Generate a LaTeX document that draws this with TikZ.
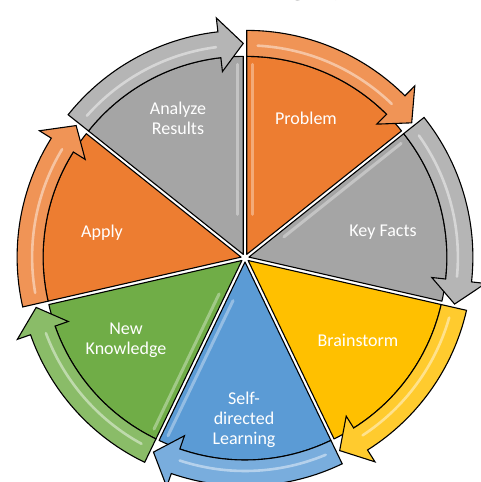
\documentclass[tikz,border=0pt]{standalone}
\usepackage{fontspec}
\setmainfont{Carlito}
\newfontfamily\titlefont{Liberation Serif}
\definecolor{cOr}{HTML}{ED7D31}
\definecolor{cGr}{HTML}{A5A5A5}
\definecolor{cGo}{HTML}{FFC000}
\definecolor{cBl}{HTML}{5B9BD5}
\definecolor{cGn}{HTML}{70AD47}
\tikzset{
  segbody/.style={draw=black, line width=1.1pt, line join=round},
  segarrow/.style={draw=black, line width=1.1pt, line join=miter},
  gloss/.style={draw=white, opacity=0.45, line width=2.6pt, line cap=round},
  bodystripe/.style={draw=white, opacity=0.35, line width=3pt, line cap=round},
  lbl/.style={text=white, font=\fontsize{18}{20}\selectfont, align=center, inner sep=0pt},
}
% #1 index, #2 colour
\newcommand\cycseg[2]{%
  \pgfmathsetmacro\sA{90-#1*360/7}%
  \pgfmathsetmacro\eA{\sA-360/7}%
  \pgfmathsetmacro\mA{\sA-180/7}%
  \pgfmathsetmacro\hA{\eA+6.5}%
  \begin{scope}[shift={(\mA:4)}]
    \path[segbody, fill=#2] (0,0) -- (\sA:198) arc[start angle=\sA, end angle=\eA, radius=198] -- cycle;
    \path[segarrow, fill=#2!82!white] (\sA:224) arc[start angle=\sA, end angle=\hA, radius=224]
      -- (\hA:238) -- (\eA:211) -- (\hA:184) -- (\hA:198)
      arc[start angle=\hA, end angle=\sA, radius=198] -- cycle;
    \draw[gloss] (\sA-3:209) arc[start angle=\sA-3, end angle=\hA+1, radius=209];
  \end{scope}}
% stripe along start (#2=s) or end (#2=e) edge of segment #1
\newcommand\cycstripe[2]{%
  \pgfmathsetmacro\sA{90-#1*360/7}%
  \pgfmathsetmacro\eA{\sA-360/7}%
  \pgfmathsetmacro\mA{\sA-180/7}%
  \begin{scope}[shift={(\mA:4)}]
    \ifx s#2
      \draw[bodystripe, shift={(\sA-90:6)}] (\sA:40) -- (\sA:190);
    \else
      \draw[bodystripe, shift={(\eA+90:6)}] (\eA:40) -- (\eA:190);
    \fi
  \end{scope}}
\begin{document}
\begin{tikzpicture}[x=1pt, y=1pt]
\useasboundingbox (0,0) rectangle (481,482);
\fill[white] (0,0) rectangle (481,482);
\begin{scope}
  \clip (0,0) rectangle (481,482);
  \node[font=\titlefont\bfseries\fontsize{28}{30}\selectfont, anchor=base, inner sep=0pt] (tg) at (298,487.5) {g};
  \node[font=\titlefont\bfseries\fontsize{28}{30}\selectfont, anchor=base, inner sep=0pt] (ty) at (340,487.5) {y};
\end{scope}
\begin{scope}[shift={(245,224)}]
  \cycseg{0}{cOr}
  \cycseg{1}{cGr}
  \cycseg{2}{cGo}
  \cycseg{3}{cBl}
  \cycseg{4}{cGn}
  \cycseg{5}{cOr}
  \cycseg{6}{cGr}
  \cycstripe{0}{s}
  \cycstripe{1}{s}
  \cycstripe{3}{e}
  \cycstripe{4}{s}
  \cycstripe{6}{e}
\end{scope}
\node[lbl] (problem) at (306,364) {Problem};
\node[lbl] (keyfacts) at (383,250) {Key Facts};
\node[lbl] (brainstorm) at (358,142) {Brainstorm};
\node[lbl] (selfdir) at (244,62) {Self-\\directed\\Learning};
\node[lbl] (newknow) at (126,142) {New\\Knowledge};
\node[lbl] (apply) at (102,249) {Apply};
\node[lbl] (analyze) at (178,364) {Analyze\\Results};
\end{tikzpicture}
\end{document}
